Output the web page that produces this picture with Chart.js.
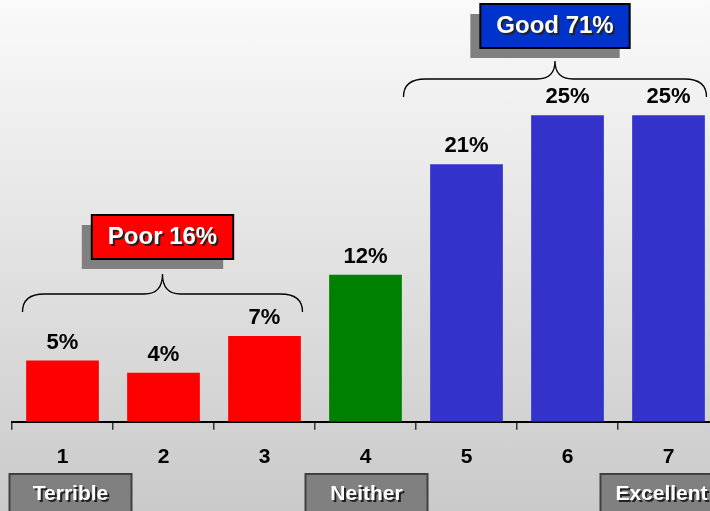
<!DOCTYPE html>
<html>
<head>
<meta charset="utf-8">
<script src="https://cdn.jsdelivr.net/npm/chart.js@4/dist/chart.umd.min.js"></script>
<style>
  html, body { margin: 0; padding: 0; }
  #wrap {
    width: 710px; height: 511px; overflow: hidden; position: relative;
    background: linear-gradient(to bottom, #fafafa 0%, #cacaca 100%);
  }
  #inner { width: 730px; height: 511px; position: absolute; left: 0; top: 0; }
</style>
</head>
<body>
<div id="wrap"><div id="inner"><canvas id="chart"></canvas></div></div>
<script>
// --- Data ---
const categories = ['1', '2', '3', '4', '5', '6', '7'];
const percentages = [5, 4, 7, 12, 21, 25, 25];
const barColors = ['#ff0000', '#ff0000', '#ff0000', '#008000', '#3333cc', '#3333cc', '#3333cc'];

// groups shown with a brace + summary box
const groupNames = ['Poor', 'Good'];
const groupFrom = [0, 4];
const groupTo = [2, 6];
const groupColors = ['#ff0000', '#0033cc'];

// anchor labels under the axis
const anchorLabels = ['Terrible', 'Neither', 'Excellent'];
const anchorIndex = [0, 3, 6];

const FONT = "Arial, 'Liberation Sans', sans-serif";

// --- Value labels above bars ---
const valueLabels = {
    id: 'valueLabels',
    afterDatasetsDraw(chart) {
        const ctx = chart.ctx;
        const meta = chart.getDatasetMeta(0);
        ctx.save();
        ctx.font = `bold 22px ${FONT}`;
        ctx.fillStyle = '#000';
        ctx.textAlign = 'center';
        ctx.textBaseline = 'alphabetic';
        meta.data.forEach((bar, i) => {
            ctx.fillText(percentages[i] + '%', bar.x, bar.y - 12);
        });
        ctx.restore();
    }
};

// --- Braces, summary boxes, anchor boxes ---
function drawBrace(ctx, x1, x2, yEnd, yLine, yPeak, mid) {
    const r = 22, r2 = 18;
    ctx.beginPath();
    ctx.moveTo(x1, yEnd);
    ctx.quadraticCurveTo(x1, yLine, x1 + r, yLine);
    ctx.lineTo(mid - r2, yLine);
    ctx.quadraticCurveTo(mid, yLine, mid, yPeak);
    ctx.quadraticCurveTo(mid, yLine, mid + r2, yLine);
    ctx.lineTo(x2 - r, yLine);
    ctx.quadraticCurveTo(x2, yLine, x2, yEnd);
    ctx.stroke();
}

function drawBox(ctx, cx, top, w, h, fill, border, text, fontSize, shadowBox) {
    const left = cx - w / 2;
    if (shadowBox) {
        ctx.fillStyle = '#808080';
        ctx.fillRect(left - 10, top + 10, w, h);
    }
    ctx.fillStyle = fill;
    ctx.fillRect(left, top, w, h);
    ctx.strokeStyle = border;
    ctx.lineWidth = 2;
    ctx.strokeRect(left, top, w, h);
    ctx.save();
    ctx.font = `bold ${fontSize}px ${FONT}`;
    ctx.textAlign = 'center';
    ctx.textBaseline = 'middle';
    ctx.fillStyle = '#222';
    ctx.fillText(text, cx + 2, top + h / 2 + 2);
    ctx.fillStyle = '#fff';
    ctx.fillText(text, cx, top + h / 2);
    ctx.restore();
}

const annotations = {
    id: 'annotations',
    afterDraw(chart) {
        const ctx = chart.ctx;
        const x = chart.scales.x;
        const braceLeft = [-40, -63];
        const braceRight = [38, 38];
        const braceY = [[312, 294, 274], [97, 79, 61]];
        const boxGap = [15, 13];
        ctx.save();
        groupNames.forEach((name, g) => {
            const x1 = x.getPixelForValue(groupFrom[g]) + braceLeft[g];
            const x2 = x.getPixelForValue(groupTo[g]) + braceRight[g];
            const mid = (x1 + x2) / 2;
            const [yEnd, yLine, yPeak] = braceY[g];
            ctx.strokeStyle = '#000';
            ctx.lineWidth = 1.3;
            drawBrace(ctx, x1, x2, yEnd, yLine, yPeak, mid);

            let total = 0;
            for (let i = groupFrom[g]; i <= groupTo[g]; i++) total += percentages[i];
            const text = `${name} ${total}%`;
            ctx.font = `bold 24px ${FONT}`;
            const w = ctx.measureText(text).width + 32;
            const h = 44;
            drawBox(ctx, mid, yPeak - boxGap[g] - h, w, h, groupColors[g], '#000', text, 24, true);
        });

        const shift = [8, 1, -7];
        anchorLabels.forEach((lab, k) => {
            const cx = x.getPixelForValue(anchorIndex[k]) + shift[k];
            drawBox(ctx, cx, 474, 122, 40, '#808080', '#404040', lab, 21, false);
        });
        ctx.restore();
    }
};

new Chart(document.getElementById('chart'), {
    type: 'bar',
    data: {
        labels: categories,
        datasets: [{
            data: percentages,
            backgroundColor: barColors,
            borderWidth: 0,
            categoryPercentage: 1,
            barPercentage: 0.72,
        }]
    },
    options: {
        responsive: true,
        maintainAspectRatio: false,
        animation: false,
        devicePixelRatio: 1,
        layout: { padding: { left: 12, right: 11, top: 54, bottom: 26 } },
        plugins: { legend: { display: false }, tooltip: { enabled: false } },
        scales: {
            y: { display: false, min: 0, max: 30 },
            x: {
                grid: { display: true, drawOnChartArea: false, drawTicks: true, tickLength: 8, color: '#333', lineWidth: 1.5 },
                border: { display: true, color: '#000', width: 2 },
                ticks: { color: '#000', padding: 15, font: { size: 21, weight: 'bold', family: FONT } }
            }
        }
    },
    plugins: [valueLabels, annotations]
});
</script>
</body>
</html>
